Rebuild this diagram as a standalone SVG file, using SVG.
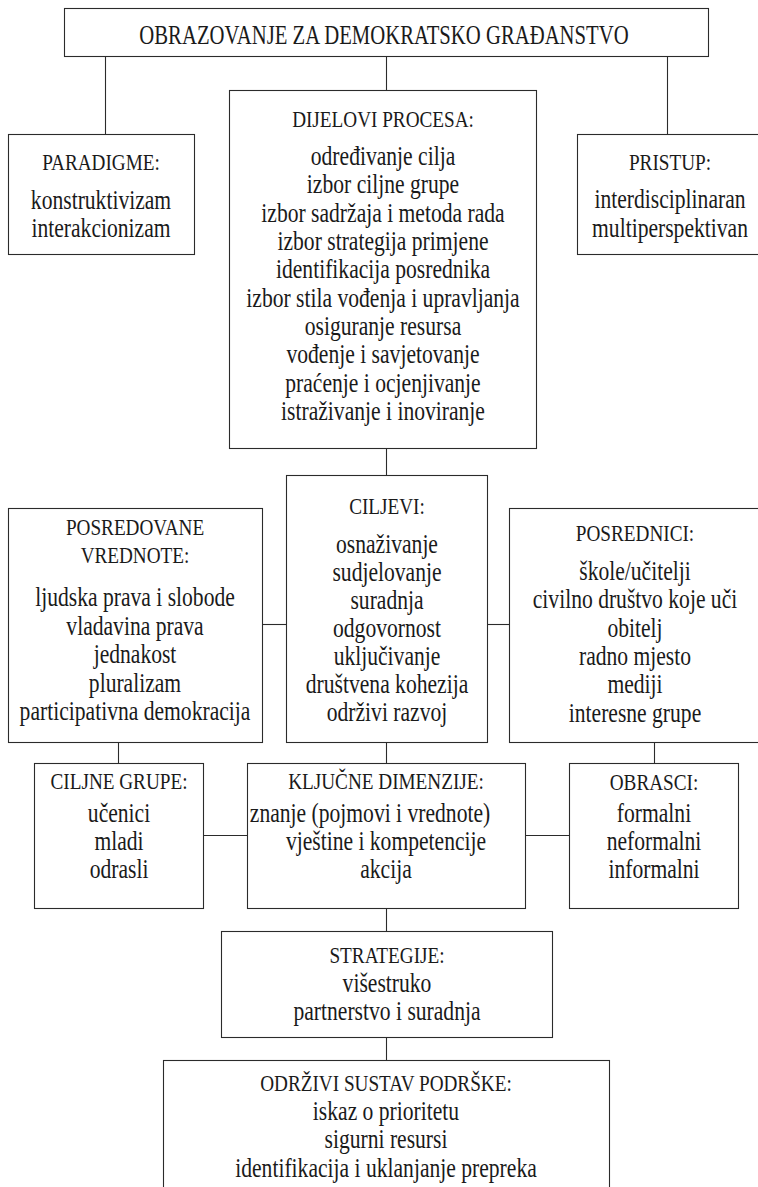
<svg xmlns="http://www.w3.org/2000/svg" width="758" height="1187" viewBox="0 0 758 1187">
<style>
rect { fill: #ffffff; stroke: #2b2b2b; stroke-width: 1.1; }
.conn path { fill: none; stroke: #2b2b2b; stroke-width: 1.1; }
text { font-family: "Liberation Serif", "Times New Roman", serif; fill: #1a1a1a; text-anchor: middle; }
.t { font-size: 28px; }
.h { font-size: 24px; }
.b { font-size: 27px; }
</style>
<rect x="0" y="0" width="758" height="1187" style="stroke:none"/>
<g class="conn" id="connectors">
<path d="M105.5 56.5 V134.5"/>
<path d="M386.5 56.5 V90.5"/>
<path d="M667.5 56.5 V134.5"/>
<path d="M386.5 448.5 V475.5"/>
<path d="M262.5 624.5 H286.5"/>
<path d="M487.5 624.5 H509.5"/>
<path d="M118.5 742.5 V763.5"/>
<path d="M386.5 742.5 V763.5"/>
<path d="M654.5 742.5 V763.5"/>
<path d="M203.5 835.5 H247.5"/>
<path d="M525.5 835.5 H569.5"/>
<path d="M386.5 908.5 V931.5"/>
<path d="M386.5 1037.5 V1060.5"/>
</g>
<g id="obrazovanje">
<rect x="64.5" y="8.5" width="644" height="48"/>
<g transform="translate(384,0) scale(0.74,1)"><text class="t" x="0" y="44">OBRAZOVANJE ZA DEMOKRATSKO GRAĐANSTVO</text></g>
</g>
<g id="paradigme">
<rect x="8.5" y="134.5" width="186" height="120"/>
<g transform="translate(101,0) scale(0.8,1)">
<text class="h" x="0" y="170">PARADIGME:</text>
<text class="b" x="0" y="209">konstruktivizam</text>
<text class="b" x="0" y="237">interakcionizam</text>
</g>
</g>
<g id="dijelovi">
<rect x="229.5" y="90.5" width="307" height="358"/>
<g transform="translate(383,0) scale(0.8,1)">
<text class="h" x="0" y="127">DIJELOVI PROCESA:</text>
<text class="b" x="0" y="165">određivanje cilja</text>
<text class="b" x="0" y="193">izbor ciljne grupe</text>
<text class="b" x="0" y="222">izbor sadržaja i metoda rada</text>
<text class="b" x="0" y="250">izbor strategija primjene</text>
<text class="b" x="0" y="278">identifikacija posrednika</text>
<text class="b" x="0" y="307">izbor stila vođenja i upravljanja</text>
<text class="b" x="0" y="335">osiguranje resursa</text>
<text class="b" x="0" y="363">vođenje i savjetovanje</text>
<text class="b" x="0" y="392">praćenje i ocjenjivanje</text>
<text class="b" x="0" y="420">istraživanje i inoviranje</text>
</g>
</g>
<g id="pristup">
<rect x="577.5" y="134.5" width="192" height="120"/>
<g transform="translate(670,0) scale(0.8,1)">
<text class="h" x="0" y="170">PRISTUP:</text>
<text class="b" x="0" y="208">interdisciplinaran</text>
<text class="b" x="0" y="237">multiperspektivan</text>
</g>
</g>
<g id="posredovane">
<rect x="8.5" y="508.5" width="254" height="234"/>
<g transform="translate(135,0) scale(0.8,1)">
<text class="h" x="0" y="535">POSREDOVANE</text>
<text class="h" x="0" y="563">VREDNOTE:</text>
<text class="b" x="0" y="606">ljudska prava i slobode</text>
<text class="b" x="0" y="635">vladavina prava</text>
<text class="b" x="0" y="663">jednakost</text>
<text class="b" x="0" y="692">pluralizam</text>
<text class="b" x="0" y="720">participativna demokracija</text>
</g>
</g>
<g id="ciljevi">
<rect x="286.5" y="475.5" width="201" height="267"/>
<g transform="translate(387,0) scale(0.8,1)">
<text class="h" x="0" y="514">CILJEVI:</text>
<text class="b" x="0" y="553">osnaživanje</text>
<text class="b" x="0" y="581">sudjelovanje</text>
<text class="b" x="0" y="609">suradnja</text>
<text class="b" x="0" y="637">odgovornost</text>
<text class="b" x="0" y="665">uključivanje</text>
<text class="b" x="0" y="693">društvena kohezija</text>
<text class="b" x="0" y="721">održivi razvoj</text>
</g>
</g>
<g id="posrednici">
<rect x="509.5" y="508.5" width="260" height="234"/>
<g transform="translate(635,0) scale(0.8,1)">
<text class="h" x="0" y="541">POSREDNICI:</text>
<text class="b" x="0" y="580">škole/učitelji</text>
<text class="b" x="0" y="608">civilno društvo koje uči</text>
<text class="b" x="0" y="637">obitelj</text>
<text class="b" x="0" y="665">radno mjesto</text>
<text class="b" x="0" y="693">mediji</text>
<text class="b" x="0" y="722">interesne grupe</text>
</g>
</g>
<g id="ciljne-grupe">
<rect x="34.5" y="763.5" width="169" height="145"/>
<g transform="translate(119,0) scale(0.8,1)">
<text class="h" x="0" y="789">CILJNE GRUPE:</text>
<text class="b" x="0" y="822">učenici</text>
<text class="b" x="0" y="850">mladi</text>
<text class="b" x="0" y="878">odrasli</text>
</g>
</g>
<g id="kljucne-dimenzije">
<rect x="247.5" y="763.5" width="278" height="145"/>
<g transform="translate(386,0) scale(0.8,1)">
<text class="h" x="0" y="789">KLJUČNE DIMENZIJE:</text>
<text class="b" x="-20" y="822">znanje (pojmovi i vrednote)</text>
<text class="b" x="0" y="850">vještine i kompetencije</text>
<text class="b" x="0" y="878">akcija</text>
</g>
</g>
<g id="obrasci">
<rect x="569.5" y="763.5" width="169" height="145"/>
<g transform="translate(654,0) scale(0.8,1)">
<text class="h" x="0" y="790">OBRASCI:</text>
<text class="b" x="0" y="822">formalni</text>
<text class="b" x="0" y="850">neformalni</text>
<text class="b" x="0" y="878">informalni</text>
</g>
</g>
<g id="strategije">
<rect x="221.5" y="931.5" width="331" height="106"/>
<g transform="translate(387,0) scale(0.8,1)">
<text class="h" x="0" y="963">STRATEGIJE:</text>
<text class="b" x="0" y="992">višestruko</text>
<text class="b" x="0" y="1020">partnerstvo i suradnja</text>
</g>
</g>
<g id="odrzivi-sustav">
<rect x="163.5" y="1060.5" width="446" height="200"/>
<g transform="translate(386,0) scale(0.8,1)">
<text class="h" x="0" y="1091">ODRŽIVI SUSTAV PODRŠKE:</text>
<text class="b" x="0" y="1120">iskaz o prioritetu</text>
<text class="b" x="0" y="1148">sigurni resursi</text>
<text class="b" x="0" y="1177">identifikacija i uklanjanje prepreka</text>
</g>
</g>
</svg>
